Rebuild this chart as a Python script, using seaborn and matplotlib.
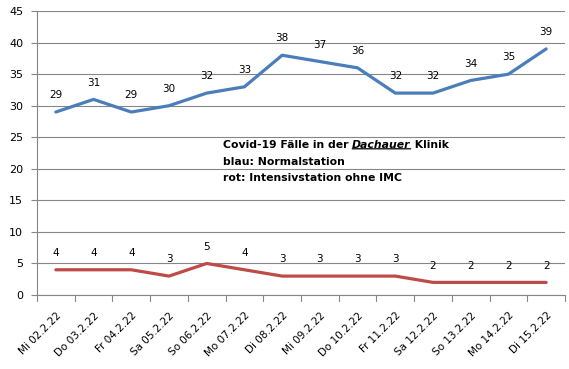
import pandas as pd
import matplotlib.pyplot as plt
import seaborn as sns

# === Data ===
dates = ["Mi 02.2.22", "Do 03.2.22", "Fr 04.2.22", "Sa 05.2.22", "So 06.2.22",
         "Mo 07.2.22", "Di 08.2.22", "Mi 09.2.22", "Do 10.2.22", "Fr 11.2.22",
         "Sa 12.2.22", "So 13.2.22", "Mo 14.2.22", "Di 15.2.22"]
normal = [29, 31, 29, 30, 32, 33, 38, 37, 36, 32, 32, 34, 35, 39]
intensiv = [4, 4, 4, 3, 5, 4, 3, 3, 3, 3, 2, 2, 2, 2]

df = pd.DataFrame({"Datum": dates, "Normal": normal, "Intensiv": intensiv})
df["pos"] = range(len(df))

sns.set_style("white")
plt.rcParams['font.family'] = ['DejaVu Sans']
plt.rcParams['text.color'] = 'black'
plt.rcParams['xtick.color'] = 'black'
plt.rcParams['ytick.color'] = 'black'

fig = plt.figure(figsize=(5.69, 3.69), dpi=100)
ax = fig.add_axes([0.065, 0.2005, 0.928, 0.7695])

blue = "#4A7EBB"
red = "#BE4B48"
sns.lineplot(data=df, x="pos", y="Normal", color=blue, linewidth=2.3, ax=ax)
sns.lineplot(data=df, x="pos", y="Intensiv", color=red, linewidth=2.3, ax=ax)

# data labels above points
for i, row in df.iterrows():
    ax.annotate(str(row["Normal"]), (row["pos"], row["Normal"]), xytext=(0, 8.5),
                textcoords="offset points", ha="center", va="bottom", fontsize=7.5)
    ax.annotate(str(row["Intensiv"]), (row["pos"], row["Intensiv"]), xytext=(0, 8.5),
                textcoords="offset points", ha="center", va="bottom", fontsize=7.5)

ax.set_xlim(-0.5, len(dates) - 0.5)
ax.set_ylim(0, 45)
ax.set_yticks(range(0, 46, 5))
ax.set_xticks(df["pos"])
ax.set_xticklabels(dates, rotation=45, ha="right", rotation_mode="anchor", fontsize=7.5)
ax.tick_params(axis="x", length=0, pad=11)
ax.tick_params(axis="y", labelsize=8, length=4, color="#868686", direction="out",
               left=True, pad=6)
# Excel-style ticks between categories
for b in range(len(dates) + 1):
    ax.plot([b - 0.5, b - 0.5], [0, -0.9], color="#868686", lw=0.8, clip_on=False)

ax.yaxis.grid(True, color="#868686", lw=0.8)
ax.set_axisbelow(True)
for s in ["top", "right"]:
    ax.spines[s].set_visible(False)
for s in ["left", "bottom"]:
    ax.spines[s].set_color("#868686")
    ax.spines[s].set_linewidth(0.8)
ax.set_xlabel("")
ax.set_ylabel("")

# annotation text block
fs = 7.8
kw = dict(fontsize=fs, fontweight="bold", va="baseline", color="black")
t1 = ax.text(4.43, 23.3, "Covid-19 Fälle in der ", **kw)
t2 = ax.annotate("Dachauer", xy=(1, 0), xycoords=t1, style="italic",
                 fontsize=fs, fontweight="bold", va="bottom", color="black")
t3 = ax.annotate(" Klinik", xy=(1, 0), xycoords=t2, fontsize=fs,
                 fontweight="bold", va="bottom", color="black")
ax.annotate("", xy=(0, 0.12), xycoords=t2, xytext=(1, 0.12), textcoords=t2,
            arrowprops=dict(arrowstyle="-", lw=0.9, color="black", shrinkA=0, shrinkB=0))
ax.text(4.43, 20.6, "blau: Normalstation", **kw)
ax.text(4.43, 18.1, "rot: Intensivstation ohne IMC", **kw)

plt.savefig("out.png", dpi=100)
